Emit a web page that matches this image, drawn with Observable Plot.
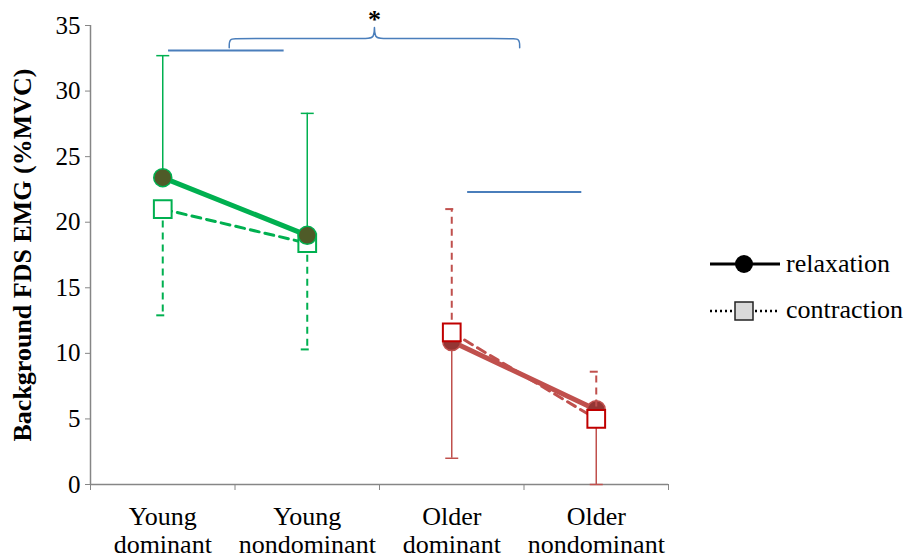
<!DOCTYPE html>
<html>
<head>
<meta charset="utf-8">
<script src="https://cdn.jsdelivr.net/npm/d3@7"></script>
<script src="https://cdn.jsdelivr.net/npm/@observablehq/plot@0.6"></script>
<style>
  body { margin: 0; background: #fff; }
  #chart { position: relative; width: 907px; height: 560px; font-family: "Liberation Serif", "Times New Roman", serif; }
  #legend { position: absolute; left: 700px; top: 240px; }
  #legend text { font-family: "Liberation Serif", "Times New Roman", serif; font-size: 26px; fill: black; }
</style>
</head>
<body>
<div id="chart">
  <svg id="legend" width="207" height="100">
    <line x1="10" x2="80" y1="24" y2="24" stroke="black" stroke-width="3"></line>
    <circle cx="44" cy="24" r="9" fill="black"></circle>
    <text x="86" y="32" font-family="Liberation Serif">relaxation</text>
    <line x1="10" x2="80" y1="71" y2="71" stroke="black" stroke-width="2.5" stroke-dasharray="2,3"></line>
    <rect x="35" y="62" width="18" height="18" fill="#D9D9D9" stroke="#222" stroke-width="1.5"></rect>
    <text x="86" y="78" font-family="Liberation Serif">contraction</text>
  </svg>
</div>
<script>
// Background FDS EMG (%MVC), mean ± SD, by age group and hand
const categories = ["Young\ndominant", "Young\nnondominant", "Older\ndominant", "Older\nnondominant"];
const ageGroup = ["Young", "Young", "Older", "Older"];
const relaxation = [23.4, 19.0, 10.9, 5.7];
const relaxationSD = [9.3, 9.3, 8.9, 5.7];
const contraction = [21.0, 18.4, 11.6, 5.0];
const contractionSD = [8.1, 8.1, 9.4, 3.6];
const yTicks = [0, 5, 10, 15, 20, 25, 30, 35];
const categoryEdges = [-0.5, 0.5, 1.5, 2.5, 3.5];

// Significance annotations (data units)
const youngBar = {x1: 0.04, x2: 0.84, y: 33.1};
const olderBar = {x1: 2.11, x2: 2.90, y: 22.3};
const brace = {x1: 0.46, x2: 2.47, y: 34.0, hook: 0.69, tip: 1.26, round: 0.05};
const starLabel = "*";

const rows = categories.map((c, i) => ({
  i, group: ageGroup[i],
  relax: relaxation[i], relaxSD: relaxationSD[i],
  con: contraction[i], conSD: contractionSD[i]
}));

const style = {
  Young: {line: "#00B050", bar: "#00B050", dotFill: "#4F5B28", dotStroke: "#00B050", square: "#00B050"},
  Older: {line: "#C0504D", bar: "#C0504D", dotFill: "#943634", dotStroke: "#C0504D", square: "#C00000"}
};
// one-sided error bars: which way each series' SD is drawn
const relaxDir = {Young: 1, Older: -1};
const conDir = {Young: -1, Older: 1};

const cap = {draw(ctx) { ctx.moveTo(-6.5, 0); ctx.lineTo(6.5, 0); }};

function groupMarks(g, series) {
  const data = rows.filter(d => d.group === g);
  const s = style[g];
  if (series === "con") {
    const end = d => d.con + conDir[g] * d.conSD;
    return [
      Plot.ruleX(data, {x: "i", y1: "con", y2: end, stroke: s.bar, strokeWidth: 2, strokeDasharray: "7,5"}),
      Plot.dot(data, {x: "i", y: end, symbol: cap, fill: "none", stroke: s.bar, strokeWidth: 2, strokeDasharray: "8,5"}),
      Plot.line(data, {x: "i", y: "con", stroke: s.line, strokeWidth: 3, strokeDasharray: "9,6"}),
      Plot.dot(data, {x: "i", y: "con", symbol: "square", r: 10, fill: "white", stroke: s.square, strokeWidth: 2})
    ];
  }
  const end = d => d.relax + relaxDir[g] * d.relaxSD;
  return [
    Plot.ruleX(data, {x: "i", y1: "relax", y2: end, stroke: s.bar, strokeWidth: 1.5}),
    Plot.dot(data, {x: "i", y: end, symbol: cap, fill: "none", stroke: s.bar, strokeWidth: 1.5}),
    Plot.line(data, {x: "i", y: "relax", stroke: s.line, strokeWidth: 5}),
    Plot.dot(data, {x: "i", y: "relax", r: 9, fill: s.dotFill, stroke: s.dotStroke, strokeWidth: 1.5})
  ];
}

function bracePath(b) {
  const xm = (b.x1 + b.x2) / 2;
  return [
    [b.x1, b.y - b.hook], [b.x1, b.y], [b.x1 + b.round, b.y],
    [xm - b.round, b.y], [xm, b.y], [xm, b.y + b.tip], [xm, b.y], [xm + b.round, b.y],
    [b.x2 - b.round, b.y], [b.x2, b.y], [b.x2, b.y - b.hook]
  ];
}

const blue = "#4A7EBB";
const gray = "#868686";

const chart = Plot.plot({
  width: 907,
  height: 560,
  marginLeft: 90,
  marginRight: 239,
  marginTop: 25,
  marginBottom: 76,
  style: {fontFamily: "'Liberation Serif', 'Times New Roman', serif", fontSize: "25px", color: "black", background: "transparent"},
  x: {domain: [-0.5, 3.5], axis: null},
  y: {domain: [0, 35], axis: null},
  marks: [
    Plot.axisY({ticks: yTicks, tickSize: 5, tickPadding: 5, stroke: gray, label: null, fontSize: 25}),
    Plot.axisX({ticks: categoryEdges, tickSize: 6, tickFormat: () => "", stroke: gray, label: null}),
    Plot.axisX({ticks: [0, 1, 2, 3], tickSize: 0, tickPadding: 20, tickFormat: i => categories[i], lineHeight: 1.1, fontSize: 26, label: null}),
    Plot.ruleY([0], {stroke: gray, strokeWidth: 1.5}),
    Plot.ruleX([-0.5], {stroke: gray, strokeWidth: 1.5}),
    Plot.text(["Background FDS EMG (%MVC)"], {text: d => d, frameAnchor: "left", textAnchor: "middle", rotate: -90, dx: -68, fontWeight: "bold", fontSize: 26}),
    ...groupMarks("Young", "con"),
    ...groupMarks("Young", "relax"),
    ...groupMarks("Older", "relax"),
    ...groupMarks("Older", "con"),
    Plot.ruleY([youngBar, olderBar], {x1: "x1", x2: "x2", y: "y", stroke: blue, strokeWidth: 2}),
    Plot.line(bracePath(brace), {x: d => d[0], y: d => d[1], curve: "basis", stroke: blue, strokeWidth: 1.5}),
    Plot.text([starLabel], {text: d => d, x: (brace.x1 + brace.x2) / 2, y: brace.y + brace.tip * 2 / 3, dy: -8, fontWeight: "bold", fontSize: 26})
  ]
});
document.getElementById("chart").prepend(chart);
</script>
</body>
</html>
